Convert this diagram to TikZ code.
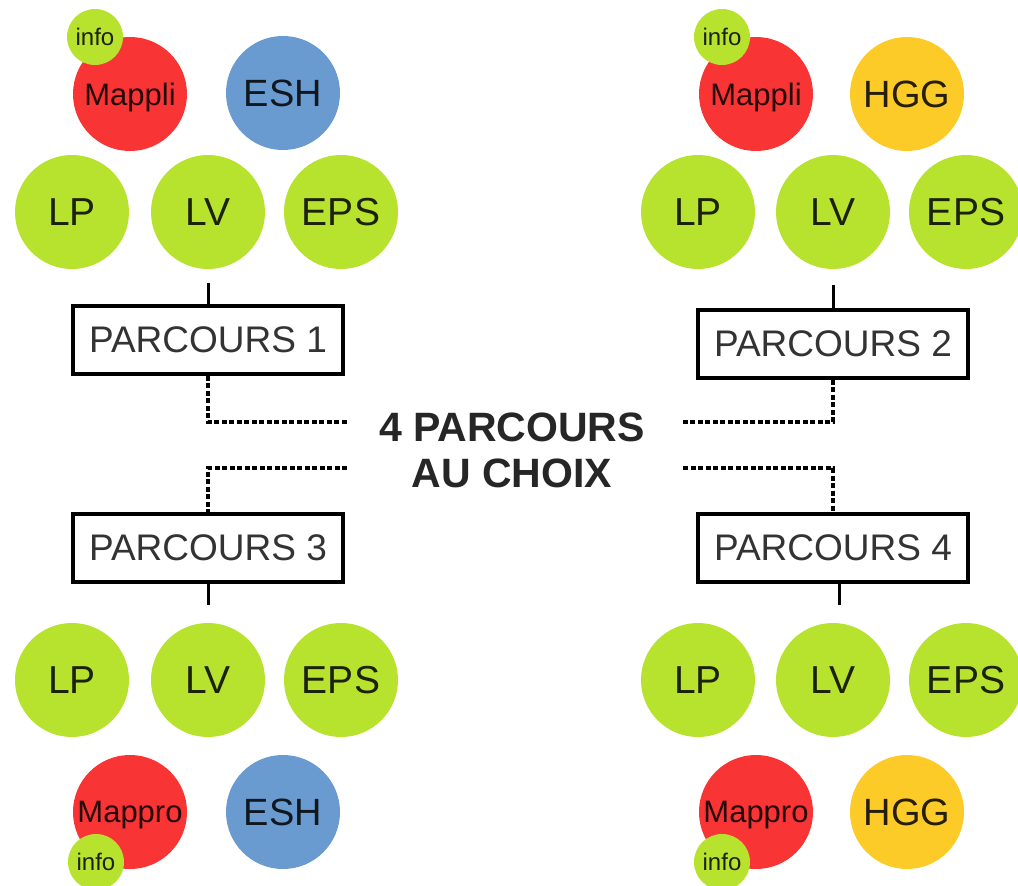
\documentclass[tikz,border=0pt]{standalone}
\usepackage{fontspec}
\setmainfont{Liberation Sans}
\definecolor{vert}{RGB}{183,226,46}
\definecolor{rouge}{RGB}{248,52,52}
\definecolor{bleu}{RGB}{106,155,208}
\definecolor{jaune}{RGB}{253,203,40}
\tikzset{
  rond/.style={circle,fill=#1,text=#1!15!black,minimum size=114pt,inner sep=0pt,
    text depth=0pt,font=\fontsize{39}{39}\selectfont},
  petit/.style={circle,fill=vert,text=vert!15!black,minimum size=56pt,inner sep=0pt,
    text depth=0pt,font=\fontsize{24}{24}\selectfont},
  cadre/.style={draw,line width=3.5pt,minimum width=270pt,minimum height=68pt,inner sep=0pt,
    text=black!80,font=\fontsize{37}{37}\selectfont},
  lien/.style={line width=3pt},
  pointille/.style={line width=3.3pt,dash pattern=on 5pt off 2.5pt},
}
\begin{document}
\begin{tikzpicture}[x=1pt,y=-1pt]
\path[fill=white,use as bounding box] (0,0) rectangle (1018,886);

\node [rond=rouge,font=\fontsize{31}{31}\selectfont] (mappli1) at (130,94) {Mappli};
\node [petit] (info1) at (95,37) {info};
\node [rond=bleu,font=\fontsize{38}{38}\selectfont] (esh1) at (283,93) {ESH};
\node [rond=vert] (lp1) at (72,212) {LP};
\node [rond=vert] (lv1) at (208,212) {LV};
\node [rond=vert] (eps1) at (341,212) {EPS};
\node [cadre] (p1) at (208,340) {PARCOURS 1};

\node [rond=rouge,font=\fontsize{31}{31}\selectfont] (mappli2) at (756,94) {Mappli};
\node [petit] (info2) at (722,37) {info};
\node [rond=jaune,font=\fontsize{38}{38}\selectfont] (hgg2) at (907,94) {HGG};
\node [rond=vert] (lp2) at (698,212) {LP};
\node [rond=vert] (lv2) at (833,212) {LV};
\node [rond=vert] (eps2) at (966,212) {EPS};
\node [cadre] (p2) at (833,344) {PARCOURS 2};

\node [font=\bfseries\fontsize{41}{46}\selectfont,align=center,text=black!85] (choix) at (512,450) {4 PARCOURS\\AU CHOIX};
\coordinate (g1) at (347,422);
\coordinate (g2) at (347,468);
\coordinate (d1) at (683,422);
\coordinate (d2) at (683,468);

\node [cadre] (p3) at (208,548) {PARCOURS 3};
\node [rond=vert] (lp3) at (72,680) {LP};
\node [rond=vert] (lv3) at (208,680) {LV};
\node [rond=vert] (eps3) at (341,680) {EPS};
\node [rond=rouge,font=\fontsize{31}{31}\selectfont] (mappro3) at (130,812) {Mappro};
\node [petit] (info3) at (96,862) {info};
\node [rond=bleu,font=\fontsize{38}{38}\selectfont] (esh3) at (283,812) {ESH};

\node [cadre] (p4) at (833,548) {PARCOURS 4};
\node [rond=vert] (lp4) at (698,680) {LP};
\node [rond=vert] (lv4) at (833,680) {LV};
\node [rond=vert] (eps4) at (966,680) {EPS};
\node [rond=rouge,font=\fontsize{31}{31}\selectfont] (mappro4) at (756,812) {Mappro};
\node [petit] (info4) at (722,862) {info};
\node [rond=jaune,font=\fontsize{38}{38}\selectfont] (hgg4) at (907,812) {HGG};

\draw [lien,shorten <=14pt] (lv1) -- (p1);
\draw [lien,shorten <=16pt] (lv2) -- (p2);
\draw [lien,shorten >=18pt] (p3) -- (lv3);
\draw [lien] ([xshift=6pt]p4.south) -- ([xshift=6pt,yshift=18pt]lv4.north);

\draw [pointille] (p1.south) |- (g1);
\draw [pointille] (g2) -| (p3.north);
\draw [pointille] (p2.south) |- (d1);
\draw [pointille] (d2) -| (p4.north);
\end{tikzpicture}
\end{document}
